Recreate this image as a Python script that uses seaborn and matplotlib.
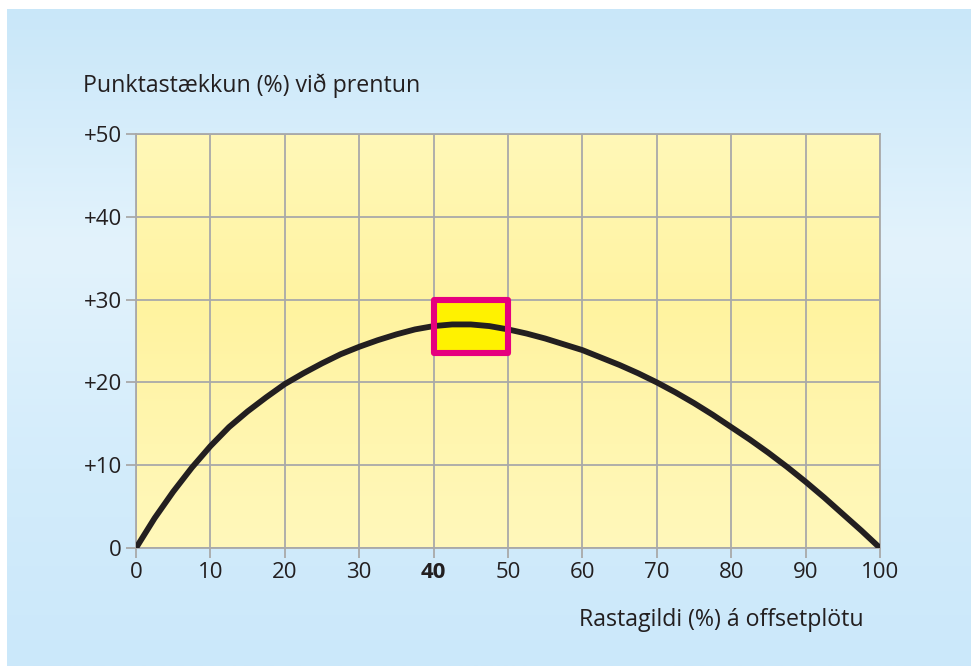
import numpy as np
import pandas as pd
import matplotlib
matplotlib.use("Agg")
import matplotlib.pyplot as plt
from matplotlib.colors import LinearSegmentedColormap
from matplotlib.patches import Rectangle
import seaborn as sns

# Dot gain on press versus tone value on the offset plate
tone_value = [0, 2.5, 5, 7.5, 10, 12.5, 15, 17.5, 20, 22.5, 25, 27.5, 30, 32.5,
              35, 37.5, 40, 42.5, 45, 47.5, 50, 52.5, 55, 57.5, 60, 62.5, 65,
              67.5, 70, 72.5, 75, 77.5, 80, 82.5, 85, 87.5, 90, 92.5, 95, 97.5, 100]
dot_gain = [0, 3.6, 6.8, 9.7, 12.3, 14.6, 16.5, 18.2, 19.8, 21.1, 22.3, 23.4,
            24.3, 25.1, 25.8, 26.4, 26.8, 27.0, 27.0, 26.8, 26.4, 25.9, 25.3,
            24.6, 23.9, 23.0, 22.1, 21.1, 20.0, 18.8, 17.5, 16.1, 14.6, 13.1,
            11.5, 9.8, 8.0, 6.1, 4.1, 2.1, 0]

x_ticks = [0, 10, 20, 30, 40, 50, 60, 70, 80, 90, 100]
y_ticks = [0, 10, 20, 30, 40, 50]
y_tick_labels = ["0", "+10", "+20", "+30", "+40", "+50"]

highlight_x = (40, 50)
highlight_y = (23.5, 30)

y_title = "Punktastækkun (%) við prentun"
x_title = "Rastagildi (%) á offsetplötu"

sns.set_theme(style="white")
plt.rcParams["font.family"] = ["Open Sans", "DejaVu Sans"]

fig = plt.figure(figsize=(9.71, 6.66), dpi=100)
fig.patch.set_facecolor("white")

# Light blue backdrop panel
bg = fig.add_axes([7 / 971, 0, 1 - 7 / 971, 1 - 9 / 666], zorder=-10)
bg_cmap = LinearSegmentedColormap.from_list(
    "sky", [(0.0, "#c9e7f9"), (0.36, "#e3f3fc"), (0.7, "#d3ecfb"), (1.0, "#cbe8fa")])
grad = np.linspace(0, 1, 256).reshape(-1, 1)
bg.imshow(grad, aspect="auto", cmap=bg_cmap, extent=[0, 1, 0, 1], origin="upper")
bg.set_axis_off()

ax = fig.add_axes([136 / 971, 1 - 548 / 666, (880 - 136) / 971, (548 - 134) / 666])
ax.set_xlim(0, 100)
ax.set_ylim(0, 50)

# Pale yellow plot area with a soft vertical gradient
y_cmap = LinearSegmentedColormap.from_list(
    "sun", [(0.0, "#fff8b8"), (0.42, "#fff3a0"), (0.75, "#fff6b0"), (1.0, "#fff8bb")])
ax.imshow(grad, aspect="auto", cmap=y_cmap, extent=[0, 100, 0, 50],
          origin="upper", zorder=0)

ax.set_xticks(x_ticks)
ax.set_yticks(y_ticks)
ax.set_yticklabels(y_tick_labels)
ax.grid(True, color="#a9a9a9", linewidth=1.3, zorder=1)
ax.set_axisbelow(False)

df = pd.DataFrame({"tone": tone_value, "gain": dot_gain})
sns.lineplot(data=df, x="tone", y="gain", ax=ax, color="#231f20",
             linewidth=4.2, zorder=3, solid_capstyle="butt",
             solid_joinstyle="round")

ax.add_patch(Rectangle((highlight_x[0], highlight_y[0]),
                       highlight_x[1] - highlight_x[0],
                       highlight_y[1] - highlight_y[0],
                       facecolor="#fff200", edgecolor="none", zorder=2))
ax.add_patch(Rectangle((highlight_x[0], highlight_y[0]),
                       highlight_x[1] - highlight_x[0],
                       highlight_y[1] - highlight_y[0],
                       facecolor="none", edgecolor="#e6007e", linewidth=4.4,
                       joinstyle="round", zorder=4))

for s in ax.spines.values():
    s.set_color("#a9a9a9")
    s.set_linewidth(1.3)

ax.tick_params(axis="both", which="both", length=7, width=1.3, color="#a9a9a9",
               labelsize=16, labelcolor="#231f20", pad=3,
               bottom=True, left=True)
ax.set_xlabel("")
ax.set_ylabel("")
for lbl in ax.get_xticklabels():
    if lbl.get_text() == "40":
        lbl.set_fontweight("bold")

fig.text(83 / 971, 1 - 86 / 666, y_title, fontsize=16.7, color="#231f20",
         ha="left", va="center")
fig.text(864 / 971, 1 - 620 / 666, x_title, fontsize=16.7, color="#231f20",
         ha="right", va="center")

fig.savefig("out.png", dpi=100)
